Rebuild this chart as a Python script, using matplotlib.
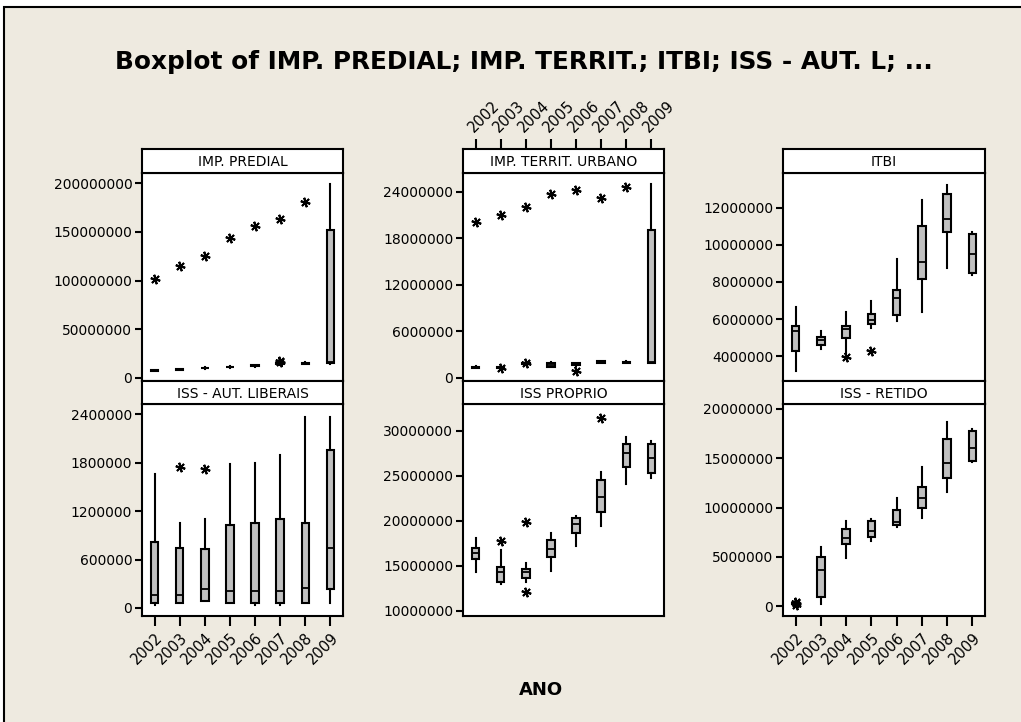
import matplotlib
matplotlib.use('Agg')
import matplotlib.pyplot as plt
from matplotlib.patches import Rectangle
from matplotlib.ticker import FuncFormatter

# settings
plt.rcParams.update({'font.family': 'DejaVu Sans', 'font.size': 10})
W, H = 1021, 722
bg_color = '#EEEAE0'
box_color = '#C0C0C0'

years = ['2002', '2003', '2004', '2005', '2006', '2007', '2008', '2009']

# values in millions (R$)
predial_lo = [7.0, 7.8, 9.6, 10.6, 11.6, 13.6, 14.4, 14.5]
predial_q1 = [7.3, 8.1, 9.9, 10.9, 12.0, 14.0, 14.8, 15.0]
predial_med = [7.6, 8.5, 10.3, 11.3, 12.6, 14.5, 15.3, 16.8]
predial_q3 = [7.9, 8.9, 10.7, 11.7, 13.2, 15.0, 15.8, 152.0]
predial_hi = [8.2, 9.2, 11.0, 12.0, 13.8, 15.4, 16.2, 199.0]
predial_out = [[101.5], [115.0], [125.0], [144.0], [155.5], [16.5, 17.5, 163.0], [181.0], []]

territ_lo = [1.25, 1.25, 1.70, 1.40, 1.60, 1.90, 1.90, 1.90]
territ_q1 = [1.30, 1.30, 1.78, 1.45, 1.65, 1.95, 1.95, 1.94]
territ_med = [1.38, 1.38, 1.85, 1.70, 1.75, 2.05, 2.00, 2.00]
territ_q3 = [1.45, 1.45, 1.92, 1.95, 1.90, 2.15, 2.08, 19.1]
territ_hi = [1.50, 1.50, 2.00, 2.00, 1.95, 2.20, 2.15, 25.0]
territ_out = [[20.1], [1.25, 21.0], [1.95, 22.1], [23.8], [0.86, 24.3], [23.2], [24.7], []]

itbi_lo = [3.19, 4.38, 4.14, 5.49, 5.91, 6.39, 8.77, 8.37]
itbi_q1 = [4.29, 4.59, 5.00, 5.73, 6.21, 8.15, 10.69, 8.46]
itbi_med = [5.35, 4.86, 5.44, 5.94, 7.15, 9.07, 11.39, 9.49]
itbi_q3 = [5.64, 5.04, 5.64, 6.25, 7.56, 11.01, 12.74, 10.58]
itbi_hi = [6.66, 5.37, 6.36, 6.97, 9.22, 12.42, 13.26, 10.71]
itbi_out = [[], [], [3.96], [4.29], [], [], [], []]

aut_lo = [0.040, 0.066, 0.087, 0.066, 0.040, 0.040, 0.066, 0.066]
aut_q1 = [0.066, 0.066, 0.087, 0.066, 0.066, 0.066, 0.066, 0.232]
aut_med = [0.157, 0.157, 0.232, 0.211, 0.211, 0.211, 0.252, 0.745]
aut_q3 = [0.815, 0.745, 0.724, 1.026, 1.047, 1.096, 1.047, 1.957]
aut_hi = [1.660, 1.047, 1.096, 1.780, 1.800, 1.895, 2.358, 2.358]
aut_out = [[], [1.742], [1.717], [], [], [], [], []]

proprio_lo = [14.30, 13.00, 13.26, 14.48, 17.22, 19.48, 24.11, 24.74]
proprio_q1 = [15.78, 13.26, 13.70, 15.96, 18.70, 20.96, 26.00, 25.37]
proprio_med = [16.48, 14.37, 14.30, 16.85, 19.63, 22.70, 27.52, 27.04]
proprio_q3 = [17.04, 14.93, 14.67, 17.89, 20.37, 24.56, 28.52, 28.52]
proprio_hi = [18.07, 16.78, 15.37, 18.70, 20.56, 25.41, 29.37, 28.93]
proprio_out = [[], [17.78], [19.85, 12.15], [], [], [31.4], [], []]

retido_lo = [0.20, 0.17, 4.91, 6.63, 7.99, 8.97, 11.61, 14.65]
retido_q1 = [0.22, 0.95, 6.29, 7.04, 8.22, 9.92, 12.96, 14.72]
retido_med = [0.25, 3.65, 6.87, 7.61, 8.56, 10.93, 14.48, 16.01]
retido_q3 = [0.28, 4.94, 7.82, 8.63, 9.75, 12.05, 16.95, 17.77]
retido_hi = [0.30, 5.96, 8.63, 8.80, 10.93, 14.15, 18.71, 17.94]
retido_out = [[0.15, 0.35, 0.42], [], [], [], [], [], [], []]


def px_axes(fig, left, top, right, bottom):
    return fig.add_axes([left / W, 1 - bottom / H, (right - left) / W, (bottom - top) / H])


def make_stats(lo, q1, med, q3, hi, out):
    stats = []
    for i in range(len(lo)):
        stats.append({'whislo': lo[i], 'q1': q1[i], 'med': med[i], 'q3': q3[i],
                      'whishi': hi[i], 'fliers': out[i]})
    return stats


def draw_panel(ax, stats, yticks, ylim):
    ax.bxp(stats, positions=range(1, 9), widths=0.3, patch_artist=True, showcaps=False,
           boxprops=dict(facecolor=box_color, edgecolor='black', linewidth=1.5),
           medianprops=dict(color='black', linewidth=1.3),
           whiskerprops=dict(color='black', linewidth=1.5),
           flierprops=dict(marker=(6, 2, 15), markersize=7, markeredgecolor='black',
                           markeredgewidth=1.4, linestyle='none'))
    ax.set_xlim(0.5, 8.5)
    ax.set_ylim(*ylim)
    ax.set_yticks(yticks)
    ax.yaxis.set_major_formatter(FuncFormatter(lambda v, p: f'{v * 1e6:.0f}'))
    ax.tick_params(axis='y', direction='out', length=5, width=1.5, labelsize=10, pad=2)
    ax.set_xticks(range(1, 9))
    ax.tick_params(axis='x', bottom=False, labelbottom=False)
    for s in ax.spines.values():
        s.set_linewidth(1.5)
    ax.set_facecolor('white')


def draw_strip(ax, label):
    ax.set_facecolor('white')
    ax.set_xlim(0.5, 8.5)
    ax.set_yticks([])
    ax.set_xticks(range(1, 9))
    ax.tick_params(axis='x', bottom=False, labelbottom=False)
    for s in ax.spines.values():
        s.set_linewidth(1.5)
    ax.text(0.5, 0.45, label, transform=ax.transAxes, ha='center', va='center', fontsize=10)


fig = plt.figure(figsize=(W / 100, H / 100), dpi=100)
fig.patch.set_facecolor('white')
# beige frame; only its top and left edges fall inside the picture
fig.patches.append(Rectangle((4 / W, -0.1), 1.2, 1.1 - 7 / H, transform=fig.transFigure,
                             facecolor=bg_color, edgecolor='black', linewidth=1.5, zorder=-5))

columns = [(142, 343), (463, 664), (783, 985)]
strips = [(149, 173), (381, 404)]
plots = [(173, 381), (404, 616)]

panels = [
    ('IMP. PREDIAL', make_stats(predial_lo, predial_q1, predial_med, predial_q3, predial_hi, predial_out),
     [0, 50, 100, 150, 200], (-3.1, 210.3)),
    ('IMP. TERRIT. URBANO', make_stats(territ_lo, territ_q1, territ_med, territ_q3, territ_hi, territ_out),
     [0, 6, 12, 18, 24], (-0.39, 26.45)),
    ('ITBI', make_stats(itbi_lo, itbi_q1, itbi_med, itbi_q3, itbi_hi, itbi_out),
     [4, 6, 8, 10, 12], (2.65, 13.89)),
    ('ISS - AUT. LIBERAIS', make_stats(aut_lo, aut_q1, aut_med, aut_q3, aut_hi, aut_out),
     [0, 0.6, 1.2, 1.8, 2.4], (-0.099, 2.524)),
    ('ISS PROPRIO', make_stats(proprio_lo, proprio_q1, proprio_med, proprio_q3, proprio_hi, proprio_out),
     [10, 15, 20, 25, 30], (9.44, 33.0)),
    ('ISS - RETIDO', make_stats(retido_lo, retido_q1, retido_med, retido_q3, retido_hi, retido_out),
     [0, 5, 10, 15, 20], (-1.0, 20.5)),
]

for i, (label, stats, yticks, ylim) in enumerate(panels):
    row, col = divmod(i, 3)
    left, right = columns[col]
    ax = px_axes(fig, left, plots[row][0], right, plots[row][1])
    draw_panel(ax, stats, yticks, ylim)
    sax = px_axes(fig, left, strips[row][0], right, strips[row][1])
    draw_strip(sax, label)

    # year labels: bottom for outer columns, top of the strip for the middle one
    if row == 1 and col != 1:
        ax.tick_params(axis='x', bottom=True, labelbottom=True, direction='out',
                       length=7, width=1.5, labelsize=10.5, pad=3)
        ax.set_xticklabels(years, rotation=45, ha='right', va='top', rotation_mode='anchor')
    if row == 0 and col == 1:
        sax.tick_params(axis='x', top=True, labeltop=True, direction='out',
                        length=7, width=1.5, labelsize=10.5, pad=3)
        sax.set_xticklabels(years, rotation=45, ha='left', va='bottom', rotation_mode='anchor')

fig.text(524 / W, 1 - 62 / H, 'Boxplot of IMP. PREDIAL; IMP. TERRIT.; ITBI; ISS - AUT. L; ...',
         ha='center', va='center', fontsize=17.8, fontweight='bold')
fig.text(541 / W, 1 - 690 / H, 'ANO', ha='center', va='center', fontsize=13, fontweight='bold')

fig.savefig('out.png', dpi=100, facecolor=fig.get_facecolor())
